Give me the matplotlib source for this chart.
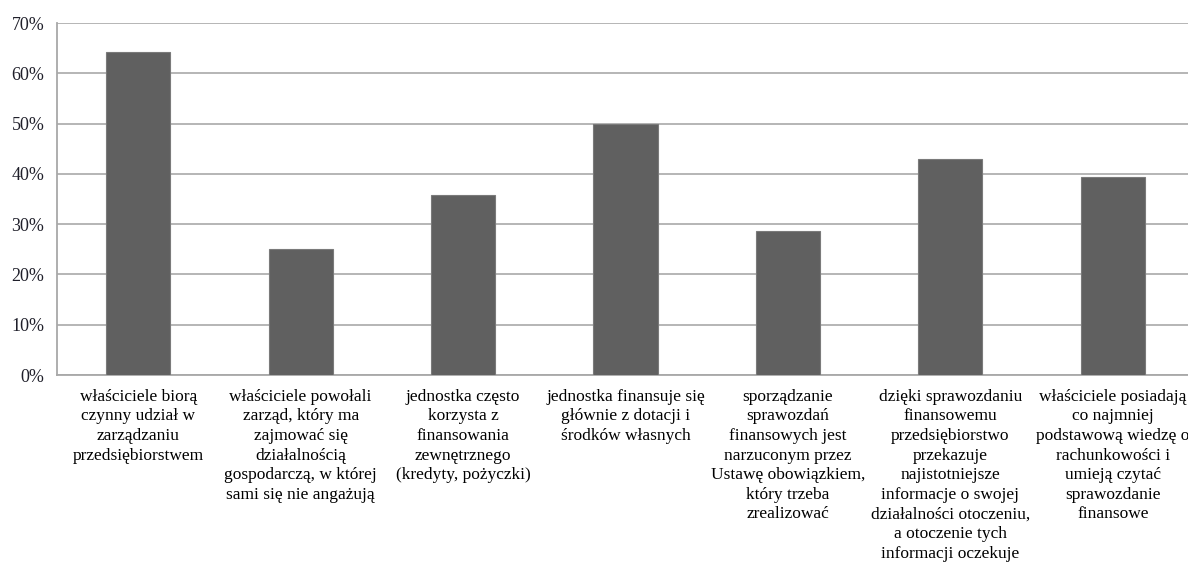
import matplotlib.pyplot as plt
from matplotlib.ticker import PercentFormatter

# odsetek odpowiedzi dla każdej kategorii
kategorie = [
    "właściciele biorą\nczynny udział w\nzarządzaniu\nprzedsiębiorstwem",
    "właściciele powołali\nzarząd, który ma\nzajmować się\ndziałalnością\ngospodarczą, w której\nsami się nie angażują",
    "jednostka często\nkorzysta z\nfinansowania\nzewnętrznego\n(kredyty, pożyczki)",
    "jednostka finansuje się\ngłównie z dotacji i\nśrodków własnych",
    "sporządzanie\nsprawozdań\nfinansowych jest\nnarzuconym przez\nUstawę obowiązkiem,\nktóry trzeba\nzrealizować",
    "dzięki sprawozdaniu\nfinansowemu\nprzedsiębiorstwo\nprzekazuje\nnajistotniejsze\ninformacje o swojej\ndziałalności otoczeniu,\na otoczenie tych\ninformacji oczekuje",
    "właściciele posiadają\nco najmniej\npodstawową wiedzę o\nrachunkowości i\numieją czytać\nsprawozdanie\nfinansowe",
]
wartosci = [64.3, 25.0, 35.7, 50.0, 28.6, 42.9, 39.3]
y_ticks = [0, 10, 20, 30, 40, 50, 60, 70]

plt.rcParams['font.family'] = ['Liberation Serif', 'DejaVu Serif']

fig = plt.figure(figsize=(11.88, 5.64), dpi=100)
W, H = 1188, 564
# obszar wykresu wychodzi lekko poza prawą krawędź
left, right, top, bottom = 57, 1194, 23, 375
ax = fig.add_axes([left / W, 1 - bottom / H, (right - left) / W, (bottom - top) / H])

x = range(len(kategorie))
ax.bar(x, wartosci, width=0.395, color='#606060', edgecolor='#7a7a7a',
       linewidth=0.8, zorder=3)

ax.set_xlim(-0.5, len(kategorie) - 0.5)
ax.set_ylim(0, 70)
ax.set_yticks(y_ticks)
ax.yaxis.set_major_formatter(PercentFormatter(decimals=0))
ax.grid(axis='y', color='#b0b0b0', linewidth=1.3, zorder=0)

ax.set_xticks(list(x))
ax.set_xticklabels(kategorie, fontsize=12.5, linespacing=1.3, ha='center', va='top')
ax.tick_params(axis='x', length=0, pad=10)
ax.tick_params(axis='y', length=0, pad=9, labelsize=13, labelcolor='#1f1f2a')

for s in ['top', 'right']:
    ax.spines[s].set_visible(False)
for s in ['left', 'bottom']:
    ax.spines[s].set_color('#a8a8a8')
    ax.spines[s].set_linewidth(1.3)

fig.savefig('out.png', dpi=100)
